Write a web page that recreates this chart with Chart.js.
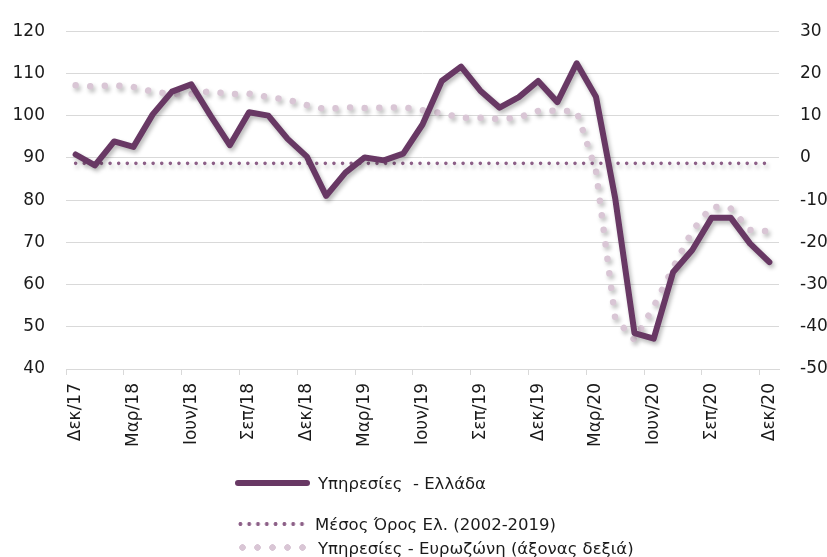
<!DOCTYPE html>
<html>
<head>
<meta charset="utf-8">
<script src="https://cdn.jsdelivr.net/npm/chart.js@4/dist/chart.umd.min.js"></script>
<style>
  body { margin: 0; background: #fff; }
  #wrap { position: relative; width: 827px; height: 557px; font-family: 'DejaVu Sans', sans-serif; }
  #wrap canvas { position: absolute; left: 0; top: 0; }
  .row { position: absolute; height: 20px; display: flex; align-items: center; font-size: 16.5px; color: #1a1a1a; white-space: pre; }
  .sw { position: absolute; }
</style>
</head>
<body>
<div id="wrap">
  <canvas id="services_chart" width="827" height="557"></canvas>
  <div class="sw" style="left:235px; top:480px; width:75px; height:6px; border-radius:3px; background:#683864;"></div>
  <div class="row" style="left:318px; top:473px;">Υπηρεσίες  - Ελλάδα</div>
  <div class="sw" style="left:236px; top:522px; width:70px; height:4px; background:radial-gradient(circle, #8c5f87 1.7px, rgba(0,0,0,0) 2.2px); background-size:8.8px 4px;"></div>
  <div class="row" style="left:315px; top:514px;">Μέσος Όρος Ελ. (2002-2019)</div>
  <div class="sw" style="left:235px; top:544px; width:75px; height:7px; background:radial-gradient(circle, #d9c6d5 3px, rgba(0,0,0,0) 3.6px); background-size:15px 7px;"></div>
  <div class="row" style="left:318px; top:538px;">Υπηρεσίες - Ευρωζώνη (άξονας δεξιά)</div>
</div>
<script>
var months = ["Δεκ/17","Ιαν/18","Φεβ/18","Μαρ/18","Απρ/18","Μαϊ/18","Ιουν/18","Ιουλ/18","Αυγ/18","Σεπ/18","Οκτ/18","Νοε/18",
              "Δεκ/18","Ιαν/19","Φεβ/19","Μαρ/19","Απρ/19","Μαϊ/19","Ιουν/19","Ιουλ/19","Αυγ/19","Σεπ/19","Οκτ/19","Νοε/19",
              "Δεκ/19","Ιαν/20","Φεβ/20","Μαρ/20","Απρ/20","Μαϊ/20","Ιουν/20","Ιουλ/20","Αυγ/20","Σεπ/20","Οκτ/20","Νοε/20",
              "Δεκ/20"];

// Υπηρεσίες - Ελλάδα (left axis)
var greece = [90.8, 88.2, 93.9, 92.6, 100.3, 105.7, 107.4, 100.0, 93.0, 100.8, 100.0, 94.5,
              90.3, 81.0, 86.5, 90.1, 89.4, 91.0, 97.9, 108.2, 111.6, 105.9, 101.9, 104.4,
              108.2, 103.2, 112.4, 104.5, 80.4, 48.5, 47.2, 62.9, 68.2, 75.8, 75.8, 69.7,
              65.3];

// Μέσος Όρος Ελ. (2002-2019) (left axis)
var average = [88.7, 88.7, 88.7, 88.7, 88.7, 88.7, 88.7, 88.7, 88.7, 88.7, 88.7, 88.7,
               88.7, 88.7, 88.7, 88.7, 88.7, 88.7, 88.7, 88.7, 88.7, 88.7, 88.7, 88.7,
               88.7, 88.7, 88.7, 88.7, 88.7, 88.7, 88.7, 88.7, 88.7, 88.7, 88.7, 88.7,
               88.7];

// Υπηρεσίες - Ευρωζώνη (right axis)
var eurozone = [17.2, 16.9, 17.2, 16.8, 15.7, 15.1, 15.1, 15.8, 15.1, 15.2, 14.4, 13.8,
                12.5, 11.5, 12.0, 11.8, 11.9, 12.0, 11.3, 10.6, 9.5, 9.5, 9.2, 9.6,
                11.1, 11.2, 11.0, -3.0, -38.0, -43.1, -35.2, -26.0, -17.3, -11.5, -12.0, -17.1,
                -17.4];

var leftTicks = [40, 120, 10];
var rightTicks = [-50, 30, 10];

Chart.defaults.font.family = "'DejaVu Sans', sans-serif";
Chart.defaults.font.size = 17;
Chart.defaults.color = '#1a1a1a';

// excel-like soft shadow under the lines
var shadowPlugin = {
  id: 'shadow',
  beforeDatasetDraw: function(chart) {
    var ctx = chart.ctx;
    ctx.save();
    ctx.shadowColor = 'rgba(0,0,0,0.28)';
    ctx.shadowBlur = 4;
    ctx.shadowOffsetX = 2;
    ctx.shadowOffsetY = 3;
  },
  afterDatasetDraw: function(chart) {
    chart.ctx.restore();
  }
};

var ctx = document.getElementById('services_chart').getContext('2d');

var chartInstance = new Chart(ctx, {
  type: 'line',
  data: {
    labels: months,
    datasets: [
      {
        label: 'Υπηρεσίες  - Ελλάδα',
        data: greece,
        yAxisID: 'y',
        borderColor: '#683864',
        borderWidth: 6,
        borderJoinStyle: 'round',
        borderCapStyle: 'round',
        pointRadius: 0,
        tension: 0
      },
      {
        label: 'Μέσος Όρος Ελ. (2002-2019)',
        data: average,
        yAxisID: 'y',
        borderColor: '#8c5f87',
        borderWidth: 3.6,
        borderDash: [0.01, 8.6],
        borderCapStyle: 'round',
        pointRadius: 0
      },
      {
        label: 'Υπηρεσίες - Ευρωζώνη (άξονας δεξιά)',
        data: eurozone,
        yAxisID: 'y1',
        borderColor: '#d9c6d5',
        borderWidth: 6.5,
        borderDash: [0.01, 14.6],
        borderCapStyle: 'round',
        pointRadius: 0,
        tension: 0
      }
    ]
  },
  options: {
    responsive: false,
    animation: false,
    layout: { padding: { top: 20, left: 0, right: 0, bottom: 0 } },
    plugins: {
      legend: { display: false },
      tooltip: { enabled: false }
    },
    scales: {
      x: {
        offset: true,
        afterFit: function(scale) { scale.height = 188; },
        grid: {
          offset: true,
          drawOnChartArea: false,
          tickLength: 6,
          color: function(c) { return c.index % 3 === 0 ? '#d9d9d9' : 'rgba(0,0,0,0)'; }
        },
        border: { color: '#d9d9d9' },
        ticks: {
          autoSkip: false,
          minRotation: 90,
          maxRotation: 90,
          padding: 8,
          callback: function(value, index) {
            return index % 3 === 0 ? months[index] : '';
          }
        }
      },
      y: {
        position: 'left',
        min: leftTicks[0],
        max: leftTicks[1],
        afterFit: function(scale) { scale.width = 66; },
        ticks: { stepSize: leftTicks[2], padding: 21 },
        grid: { color: '#d9d9d9', drawTicks: false },
        border: { display: false }
      },
      y1: {
        position: 'right',
        min: rightTicks[0],
        max: rightTicks[1],
        afterFit: function(scale) { scale.width = 48; },
        ticks: { stepSize: rightTicks[2], padding: 21 },
        grid: { display: false, drawTicks: false },
        border: { display: false }
      }
    }
  },
  plugins: [shadowPlugin]
});
</script>
</body>
</html>
